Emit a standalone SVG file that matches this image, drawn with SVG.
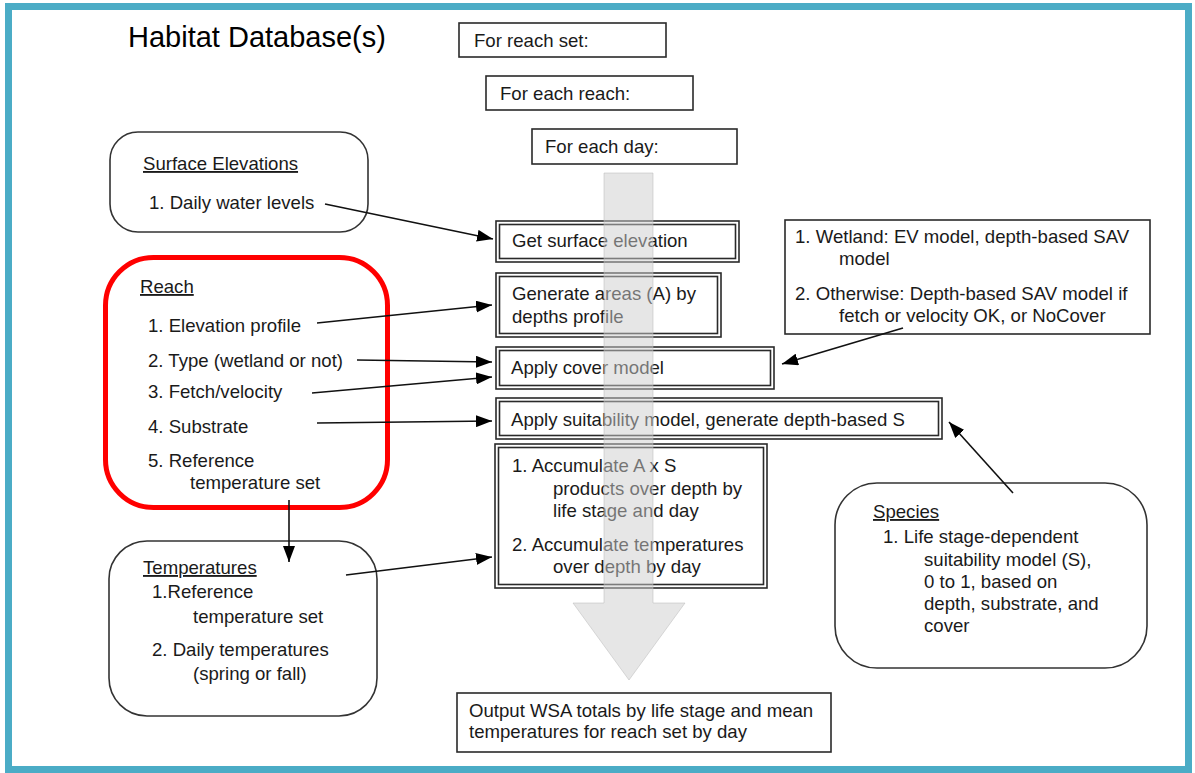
<svg xmlns="http://www.w3.org/2000/svg" width="1195" height="773" viewBox="0 0 1195 773">
<style>
text{font-family:"Liberation Sans",Arial,sans-serif;font-size:18.6px;fill:#1a1a1a}
.title{font-size:29px;fill:#000}
.u{text-decoration:underline}
.box{fill:#fff;stroke:#2a2a2a;stroke-width:1.6}
.round{fill:#fff;stroke:#333;stroke-width:1.6}
.conn{stroke:#111;stroke-width:1.6;fill:none;marker-end:url(#ah)}
</style>
<defs>
<marker id="ah" viewBox="0 0 16 12" refX="16" refY="6" markerWidth="16" markerHeight="12" markerUnits="userSpaceOnUse" orient="auto">
<path d="M0,0 L16,6 L0,12 z" fill="#000"/>
</marker>
</defs>
<rect x="0" y="0" width="1195" height="773" fill="#fff"/>
<rect x="8.5" y="6.5" width="1180" height="763" fill="none" stroke="#4bacc6" stroke-width="7"/>
<text class="title" x="128" y="47">Habitat Database(s)</text>

<g id="loop-reachset"><rect class="box" x="459" y="23" width="207" height="34"/><text x="474" y="47">For reach set:</text></g>
<g id="loop-reach"><rect class="box" x="486" y="76" width="207" height="34"/><text x="500" y="100">For each reach:</text></g>
<g id="loop-day"><rect class="box" x="532" y="129" width="205" height="35"/><text x="545" y="153">For each day:</text></g>

<g id="surface-elevations"><rect class="round" x="110" y="132" width="258" height="100" rx="28"/>
<text class="u" x="143" y="170">Surface Elevations</text>
<text x="149" y="209">1. Daily water levels</text></g>

<g id="reach"><rect x="105.5" y="257.5" width="282" height="250" rx="48" fill="#fff" stroke="#f00" stroke-width="5"/>
<text class="u" x="140" y="293">Reach</text>
<text x="148" y="332">1. Elevation profile</text>
<text x="148" y="367">2. Type (wetland or not)</text>
<text x="148" y="398">3. Fetch/velocity</text>
<text x="148" y="433">4. Substrate</text>
<text x="148" y="467">5. Reference</text>
<text x="190" y="489">temperature set</text></g>

<g id="temperatures"><rect class="round" x="109" y="541" width="268" height="175" rx="38"/>
<text class="u" x="143" y="574">Temperatures</text>
<text x="152" y="598">1.Reference</text>
<text x="193" y="623">temperature set</text>
<text x="152" y="656">2. Daily temperatures</text>
<text x="193" y="680">(spring or fall)</text></g>

<g id="get-surface"><rect class="box" x="496" y="221" width="243" height="41"/><rect class="box" x="499.5" y="224.5" width="236" height="34"/>
<text x="512" y="247">Get surface elevation</text></g>
<g id="generate-areas"><rect class="box" x="496" y="273" width="225" height="64"/><rect class="box" x="499.5" y="276.5" width="218" height="57"/>
<text x="512" y="300">Generate areas (A) by</text><text x="512" y="323">depths profile</text></g>
<g id="apply-cover"><rect class="box" x="496" y="347" width="278" height="42"/><rect class="box" x="499.5" y="350.5" width="271" height="35"/>
<text x="511" y="374">Apply cover model</text></g>
<g id="apply-suitability"><rect class="box" x="496" y="398" width="446" height="41"/><rect class="box" x="499.5" y="401.5" width="439" height="34"/>
<text x="511" y="426">Apply suitability model, generate depth-based S</text></g>
<g id="accumulate"><rect class="box" x="495" y="444" width="272" height="144"/><rect class="box" x="498.5" y="447.5" width="265" height="137"/>
<text x="512" y="472">1. Accumulate A x S</text>
<text x="553" y="495">products over depth by</text>
<text x="553" y="517">life stage and day</text>
<text x="512" y="551">2. Accumulate temperatures</text>
<text x="553" y="573">over depth by day</text></g>

<g id="cover-rules"><rect class="box" x="785" y="220" width="365" height="114"/>
<text x="795" y="243">1. Wetland: EV model, depth-based SAV</text>
<text x="839" y="265">model</text>
<text x="795" y="300">2. Otherwise: Depth-based SAV model if</text>
<text x="839" y="322">fetch or velocity OK, or NoCover</text></g>

<g id="species"><rect class="round" x="835" y="483" width="312" height="185" rx="42"/>
<text class="u" x="873" y="518">Species</text>
<text x="883" y="543">1. Life stage-dependent</text>
<text x="924" y="566">suitability model (S),</text>
<text x="924" y="588">0 to 1, based on</text>
<text x="924" y="610">depth, substrate, and</text>
<text x="924" y="632">cover</text></g>

<g id="output"><rect class="box" x="457" y="693" width="374" height="59"/>
<text x="469" y="717">Output WSA totals by life stage and mean</text>
<text x="469" y="738">temperatures for reach set by day</text></g>

<g id="flow-arrow"><path d="M604,173 L653,173 L653,603 L685,603 L629,680 L573,603 L604,603 Z" fill="#cdcdcd" fill-opacity="0.5" stroke="#b8b8b8" stroke-opacity="0.5" stroke-width="1"/></g>

<g id="connectors">
<line class="conn" x1="325" y1="204" x2="493" y2="239"/>
<line class="conn" x1="317" y1="323" x2="492" y2="305"/>
<line class="conn" x1="357" y1="360" x2="492" y2="362"/>
<line class="conn" x1="312" y1="393" x2="492" y2="377"/>
<line class="conn" x1="317" y1="423" x2="492" y2="421"/>
<line class="conn" x1="289" y1="500" x2="289" y2="562"/>
<line class="conn" x1="346" y1="575" x2="492" y2="557"/>
<line class="conn" x1="903" y1="328" x2="782" y2="364"/>
<line class="conn" x1="1013" y1="493" x2="949" y2="422"/>
</g>
</svg>
